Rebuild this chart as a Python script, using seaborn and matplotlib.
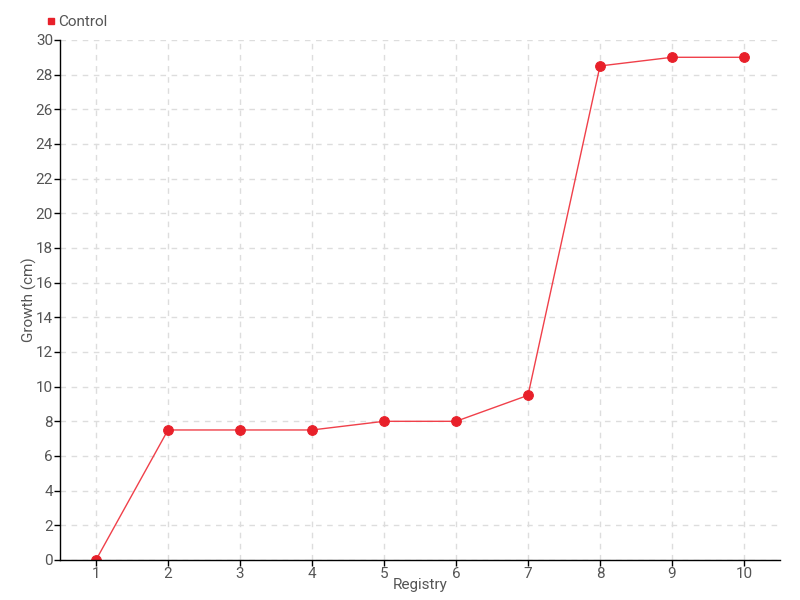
import matplotlib
matplotlib.use("Agg")
import matplotlib.pyplot as plt
import seaborn as sns
import pandas as pd
from matplotlib.lines import Line2D

registry = [1, 2, 3, 4, 5, 6, 7, 8, 9, 10]
control = [0, 7.5, 7.5, 7.5, 8, 8, 9.5, 28.5, 29, 29]
y_ticks = list(range(0, 31, 2))

sns.set_theme(style="white")
plt.rcParams['font.family'] = ['Roboto', 'DejaVu Sans']

df = pd.DataFrame({"Registry": registry, "Growth (cm)": control, "series": "Control"})

fig = plt.figure(figsize=(8, 6), dpi=100)
ax = fig.add_axes([0.075, 0.0667, 0.9, 0.8667])

red = "#e8202a"
sns.lineplot(data=df, x="Registry", y="Growth (cm)", ax=ax, color="#f0404a", linewidth=1,
             marker="o", markersize=7, markerfacecolor=red, markeredgecolor=red, legend=False)

ax.set_xlim(0.5, 10.5)
ax.set_ylim(0, 30)
ax.set_xticks(registry)
ax.set_yticks(y_ticks)
ax.grid(True, color="#dddddd", linestyle=(0, (4, 4)), linewidth=1)
for s in ["top", "right"]:
    ax.spines[s].set_visible(False)
for s in ["left", "bottom"]:
    ax.spines[s].set_color("black")
    ax.spines[s].set_linewidth(1)
ax.tick_params(axis="both", which="both", direction="out", length=4, width=1, color="black",
               labelsize=11, labelcolor="#555555", pad=1, left=True, bottom=True)
ax.set_xlabel("Registry", fontsize=11, color="#555555", labelpad=-2)
ax.set_ylabel("Growth (cm)", fontsize=11, color="#555555", labelpad=-1)

handle = Line2D([], [], marker="s", linestyle="none", color=red, markersize=5)
fig.legend([handle], ["Control"], loc="upper left", bbox_to_anchor=(0.05, 0.985), frameon=False,
           fontsize=11, handlelength=0.6, handletextpad=0.2, labelcolor="#555555", borderaxespad=0)

fig.savefig("out.png", dpi=100)
